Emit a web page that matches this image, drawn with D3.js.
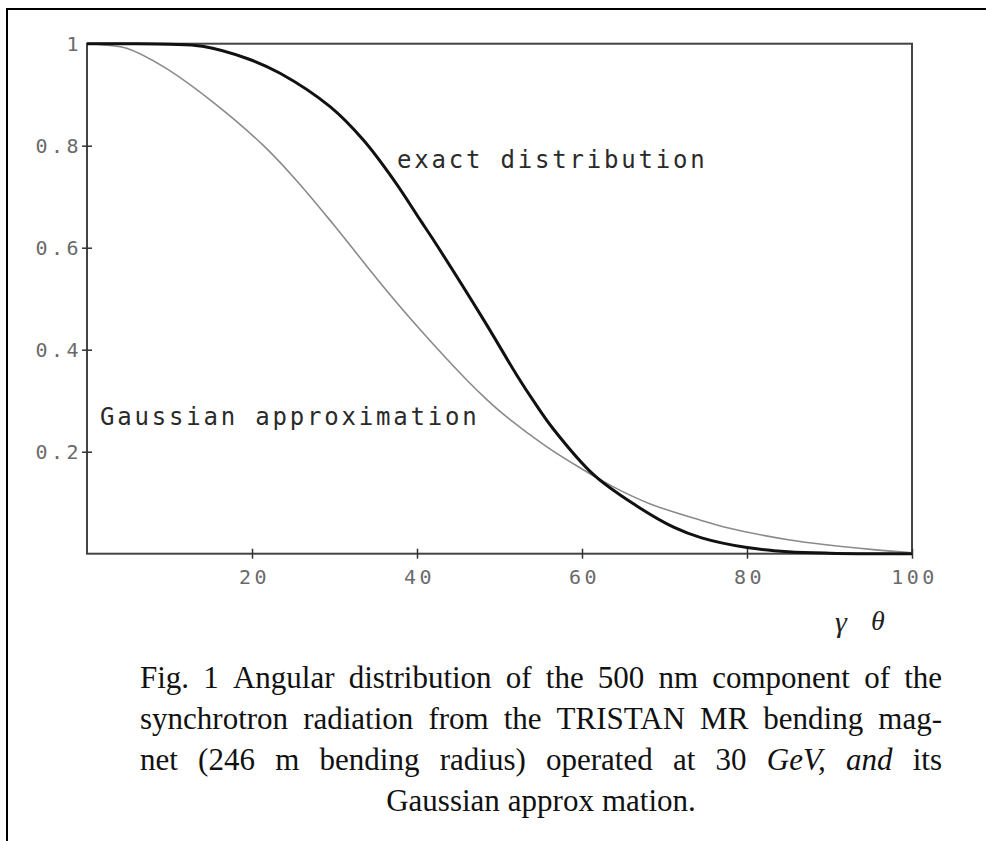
<!DOCTYPE html>
<html>
<head>
<meta charset="utf-8">
<script src="https://cdn.jsdelivr.net/npm/d3@7"></script>
<style>
  body { margin: 0; background: #fff; }
  .tick-label { font-family: "DejaVu Sans Mono", monospace; font-size: 20px; fill: #6a6a6a; letter-spacing: 3.5px; }
  .curve-label { font-family: "DejaVu Sans Mono", monospace; font-size: 24px; fill: #2a2a2a; letter-spacing: 2.8px; }
  .caption { font-family: "Liberation Serif", "Times New Roman", serif; font-size: 31px; fill: #111; }
</style>
</head>
<body>
<div id="chart"></div>
<script>
// exact synchrotron angular distribution
const exactX = [0, 5, 10, 14, 19.4, 23.4, 29.5, 33.5, 37.3, 40.4, 42, 48.1, 52.1, 54.1, 56.5, 61.4, 66.5, 71.1, 74.5, 80, 85, 90, 95, 100];
const exactY = [1, 1, 0.999, 0.995, 0.971, 0.942, 0.876, 0.811, 0.73, 0.654, 0.615, 0.458, 0.35, 0.3, 0.245, 0.155, 0.095, 0.052, 0.031, 0.012, 0.004, 0.001, 0, 0];

// gaussian approximation
const gaussX = [0, 2.5, 4.8, 9.25, 15.3, 21.4, 25.6, 29.9, 35.9, 40.4, 46, 48.4, 50.5, 55.7, 59.8, 63.8, 68.2, 74.3, 77.1, 85.2, 95.3, 100];
const gaussY = [1, 0.997, 0.991, 0.955, 0.885, 0.8, 0.728, 0.645, 0.524, 0.439, 0.341, 0.303, 0.273, 0.21, 0.168, 0.131, 0.098, 0.066, 0.053, 0.027, 0.008, 0.002];

const xTicks = [20, 40, 60, 80, 100];
const yTicks = [0.2, 0.4, 0.6, 0.8, 1];

const captionLines = [
  "Fig. 1  Angular distribution of the 500 nm component of the",
  "synchrotron radiation from the TRISTAN MR bending mag-",
  "net (246 m bending radius) operated at 30 GeV, and its",
  "Gaussian approx mation."
];

const width = 986, height = 841;
const x0 = 87, x1 = 912, yTop = 43.7, yBot = 553.7;

const svg = d3.select("#chart").append("svg")
  .attr("width", width)
  .attr("height", height);

// page frame (scan edge)
svg.append("path")
  .attr("d", `M7,${height} L7,9 L${width},9`)
  .attr("fill", "none")
  .attr("stroke", "#000")
  .attr("stroke-width", 2);

const x = d3.scaleLinear().domain([0, 100]).range([x0, x1]);
const y = d3.scaleLinear().domain([0, 1]).range([yBot, yTop]);

// plot box
svg.append("rect")
  .attr("x", x0).attr("y", yTop)
  .attr("width", x1 - x0).attr("height", yBot - yTop)
  .attr("fill", "none")
  .attr("stroke", "#444")
  .attr("stroke-width", 2);

// axes, ticks cross the frame
const xAxis = svg.append("g")
  .attr("transform", `translate(0,${yBot})`)
  .call(d3.axisBottom(x).tickValues(xTicks).tickSize(5).tickPadding(11));
xAxis.select(".domain").remove();
xAxis.selectAll(".tick line").attr("y1", -5).attr("y2", 5).attr("stroke", "#333").attr("stroke-width", 1.5);
xAxis.selectAll(".tick text").attr("class", "tick-label").attr("dx", "2px");

const yAxis = svg.append("g")
  .attr("transform", `translate(${x0},0)`)
  .call(d3.axisLeft(y).tickValues(yTicks).tickSize(5).tickPadding(3)
    .tickFormat(d => d === 1 ? "1" : d3.format(".1f")(d)));
yAxis.select(".domain").remove();
yAxis.selectAll(".tick line").attr("x1", -5).attr("x2", 5).attr("stroke", "#333").attr("stroke-width", 1.5);
yAxis.selectAll(".tick text").attr("class", "tick-label").attr("dx", "3px");
yAxis.selectAll(".tick").filter(d => d === 1).select("line").remove();

// curves
const line = d3.line()
  .x(d => x(d[0]))
  .y(d => y(d[1]))
  .curve(d3.curveCatmullRom.alpha(0.5));

svg.append("path")
  .datum(d3.zip(gaussX, gaussY))
  .attr("d", line)
  .attr("fill", "none")
  .attr("stroke", "#8a8a8a")
  .attr("stroke-width", 1.6);

svg.append("path")
  .datum(d3.zip(exactX, exactY))
  .attr("d", line)
  .attr("fill", "none")
  .attr("stroke", "#111")
  .attr("stroke-width", 3);

// curve labels
svg.append("text")
  .attr("class", "curve-label")
  .attr("x", 397).attr("y", 168)
  .text("exact distribution");

svg.append("text")
  .attr("class", "curve-label")
  .attr("x", 100).attr("y", 425)
  .text("Gaussian approximation");

// axis title
svg.append("text")
  .attr("x", 835).attr("y", 632)
  .attr("font-family", "Liberation Serif, serif")
  .attr("font-style", "italic")
  .attr("font-size", 30)
  .attr("fill", "#222")
  .text("γ");
svg.append("text")
  .attr("x", 871).attr("y", 630)
  .attr("font-family", "Liberation Serif, serif")
  .attr("font-style", "italic")
  .attr("font-size", 28)
  .attr("fill", "#222")
  .text("θ");

// caption, justified word by word
const capLeft = 140, capRight = 942;
const baselines = [688, 729, 770, 811];
const italicWords = new Set(["GeV,", "and"]);

captionLines.forEach((ln, i) => {
  const words = ln.split(/\s+/);
  const g = svg.append("g");
  const nodes = words.map(w => g.append("text")
    .attr("class", "caption")
    .attr("y", baselines[i])
    .attr("font-style", italicWords.has(w) ? "italic" : null)
    .text(w));
  const widths = nodes.map(n => n.node().getComputedTextLength());
  const total = d3.sum(widths);
  if (i < captionLines.length - 1) {
    let gap = (capRight - capLeft - total) / (words.length - 1);
    let sx = 1;
    if (gap < 7) {
      gap = 7;
      sx = (capRight - capLeft) / (total + gap * (words.length - 1));
    }
    let cx = 0;
    nodes.forEach((n, k) => {
      n.attr("x", cx);
      cx += widths[k] + gap;
    });
    g.attr("transform", `translate(${capLeft},0) scale(${sx},1)`);
  } else {
    const gap = 8;
    const w = total + gap * (words.length - 1);
    let cx = 541 - w / 2;
    nodes.forEach((n, k) => {
      n.attr("x", cx);
      cx += widths[k] + gap;
    });
  }
});
</script>
</body>
</html>
